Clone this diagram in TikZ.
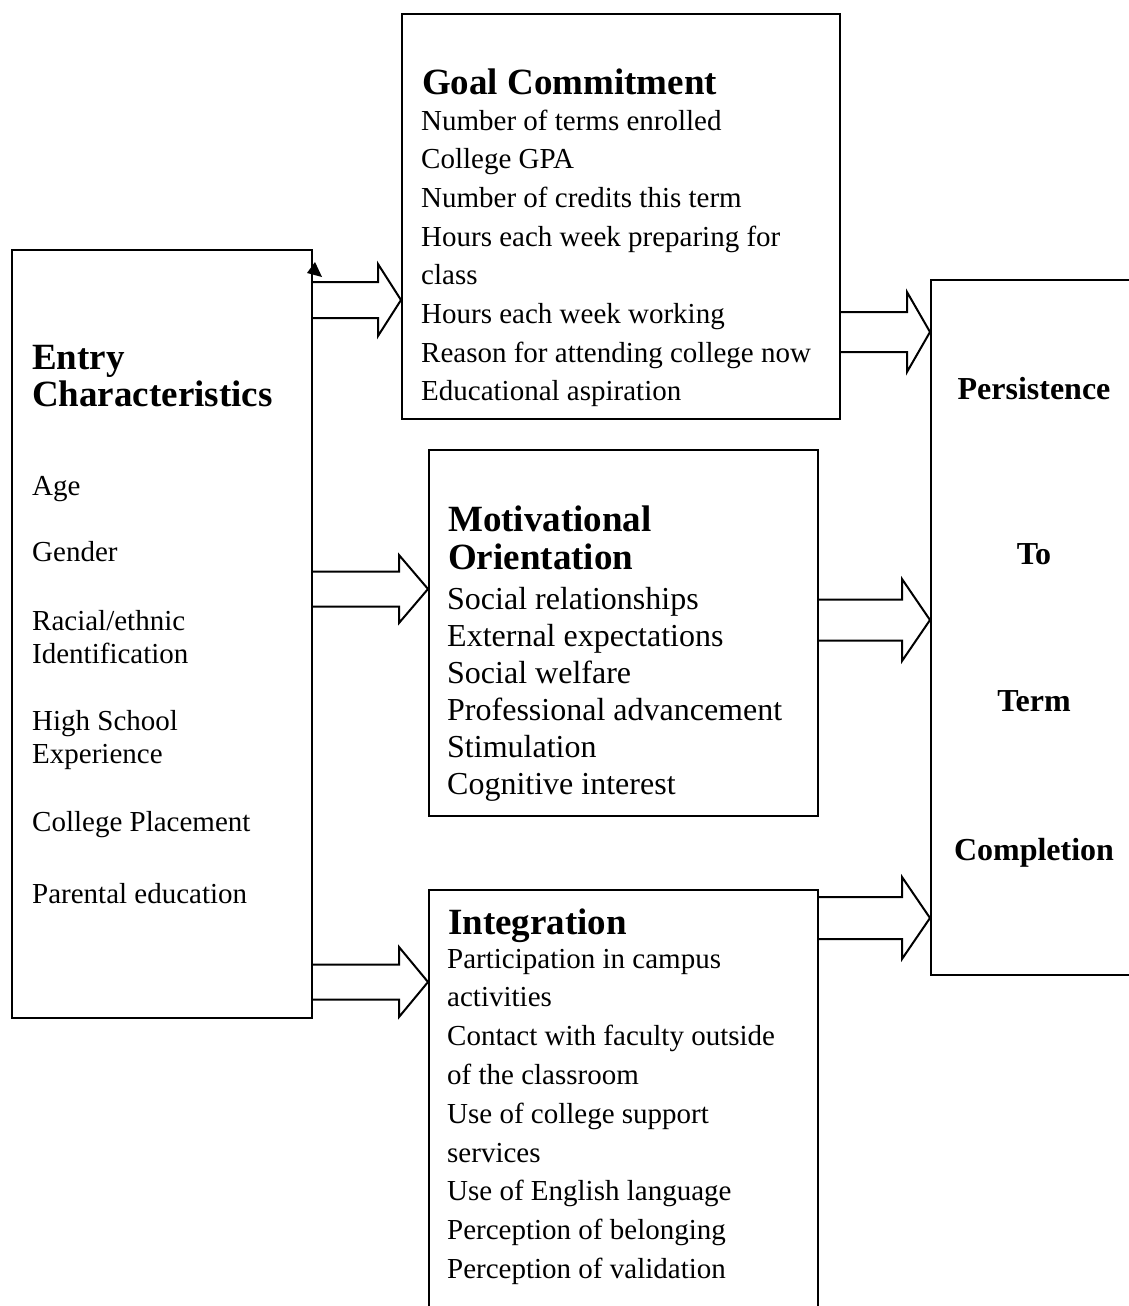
\documentclass[tikz,border=0pt]{standalone}
\usepackage{fontspec}
\setmainfont{Liberation Serif}
\usetikzlibrary{calc}

\newcommand{\blockarrow}[6]{%
  \coordinate (tip) at (#2.west |- 0,#3);
  \draw[arrowline] (#1.east |- 0,#3-#4) -- ($(tip)+(-#6,-#4)$) -- ++(0,#4-#5)
    -- (tip) -- ++(-#6,#5) -- ++(0,#4-#5) -- (#1.east |- 0,#3+#4);}

\begin{document}
\begin{tikzpicture}[x=1pt, y=-1pt,
    box/.style={draw, line width=2pt, inner sep=0pt, anchor=north west},
    arrowline/.style={line width=2pt},
    heading/.style={font=\bfseries\fontsize{37}{38}\selectfont, anchor=base west, inner sep=0pt},
    item/.style={font=\fontsize{29}{33}\selectfont, anchor=base west, inner sep=0pt},
    bigitem/.style={font=\fontsize{32}{36}\selectfont, anchor=base west, inner sep=0pt},
    outcome/.style={font=\bfseries\fontsize{32}{36}\selectfont, anchor=base, inner sep=0pt}]
    \useasboundingbox (0,0) rectangle (1129,1306);

    \node[box, minimum width=300pt, minimum height=768pt] (entry) at (11,249) {};
    \node[box, minimum width=438pt, minimum height=405pt] (goal) at (401,13) {};
    \node[box, minimum width=389pt, minimum height=366pt] (motiv) at (428,449) {};
    \node[box, minimum width=389pt, minimum height=431pt] (integ) at (428,889) {};
    \node[box, minimum width=220pt, minimum height=695pt] (pers) at (930,279) {};

    % entry characteristics
    \node[heading] (entryhead) at ([shift={(21,120)}]entry.north west) {Entry};
    \node[heading] (entryhead2) at ([shift={(21,157)}]entry.north west) {Characteristics};
    \foreach \t/\y [count=\i] in {Age/246, Gender/312, {Racial/ethnic}/381, Identification/414,
        High School/481, Experience/514, College Placement/582, Parental education/654}{
      \node[item] (entry\i) at ([shift={(21,\y)}]entry.north west) {\t};
    }

    % goal commitment
    \node[heading] (goalhead) at ([shift={(21,81)}]goal.north west) {Goal Commitment};
    \foreach \t [count=\i from 0] in {Number of terms enrolled, College GPA,
        Number of credits this term, Hours each week preparing for, class,
        Hours each week working, Reason for attending college now, Educational aspiration}{
      \node[item] (goal\i) at ([shift={(20,117+38.7*\i)}]goal.north west) {\t};
    }

    % motivational orientation
    \node[heading] (motivhead) at ([shift={(20,82)}]motiv.north west) {Motivational};
    \node[heading] (motivhead2) at ([shift={(20,120)}]motiv.north west) {Orientation};
    \foreach \t [count=\i from 0] in {Social relationships, External expectations, Social welfare,
        Professional advancement, Stimulation, Cognitive interest}{
      \node[bigitem] (motiv\i) at ([shift={(19,160+37*\i)}]motiv.north west) {\t};
    }

    % integration
    \node[heading] (integhead) at ([shift={(20,45)}]integ.north west) {Integration};
    \foreach \t [count=\i from 0] in {Participation in campus, activities,
        Contact with faculty outside, of the classroom, Use of college support, services,
        Use of English language, Perception of belonging, Perception of validation}{
      \node[item] (integ\i) at ([shift={(19,79+38.8*\i)}]integ.north west) {\t};
    }

    % outcome
    \foreach \t/\y [count=\i] in {Persistence/120, To/285, Term/432, Completion/581}{
      \node[outcome] (pers\i) at ([shift={(104,\y)}]pers.north west) {\t};
    }

    \blockarrow{entry}{goal}{300}{18}{36}{23}
    \blockarrow{goal}{pers}{332}{20}{40}{23}
    \blockarrow{entry}{motiv}{589}{17.5}{34}{29}
    \blockarrow{motiv}{pers}{620}{20.5}{41}{28}
    \blockarrow{entry}{integ}{982}{17.5}{35}{29}
    \blockarrow{integ}{pers}{918}{21}{41}{28}

    \fill (315,262) -- (307,273) -- (322,277) -- cycle;
  \end{tikzpicture}
\end{document}
